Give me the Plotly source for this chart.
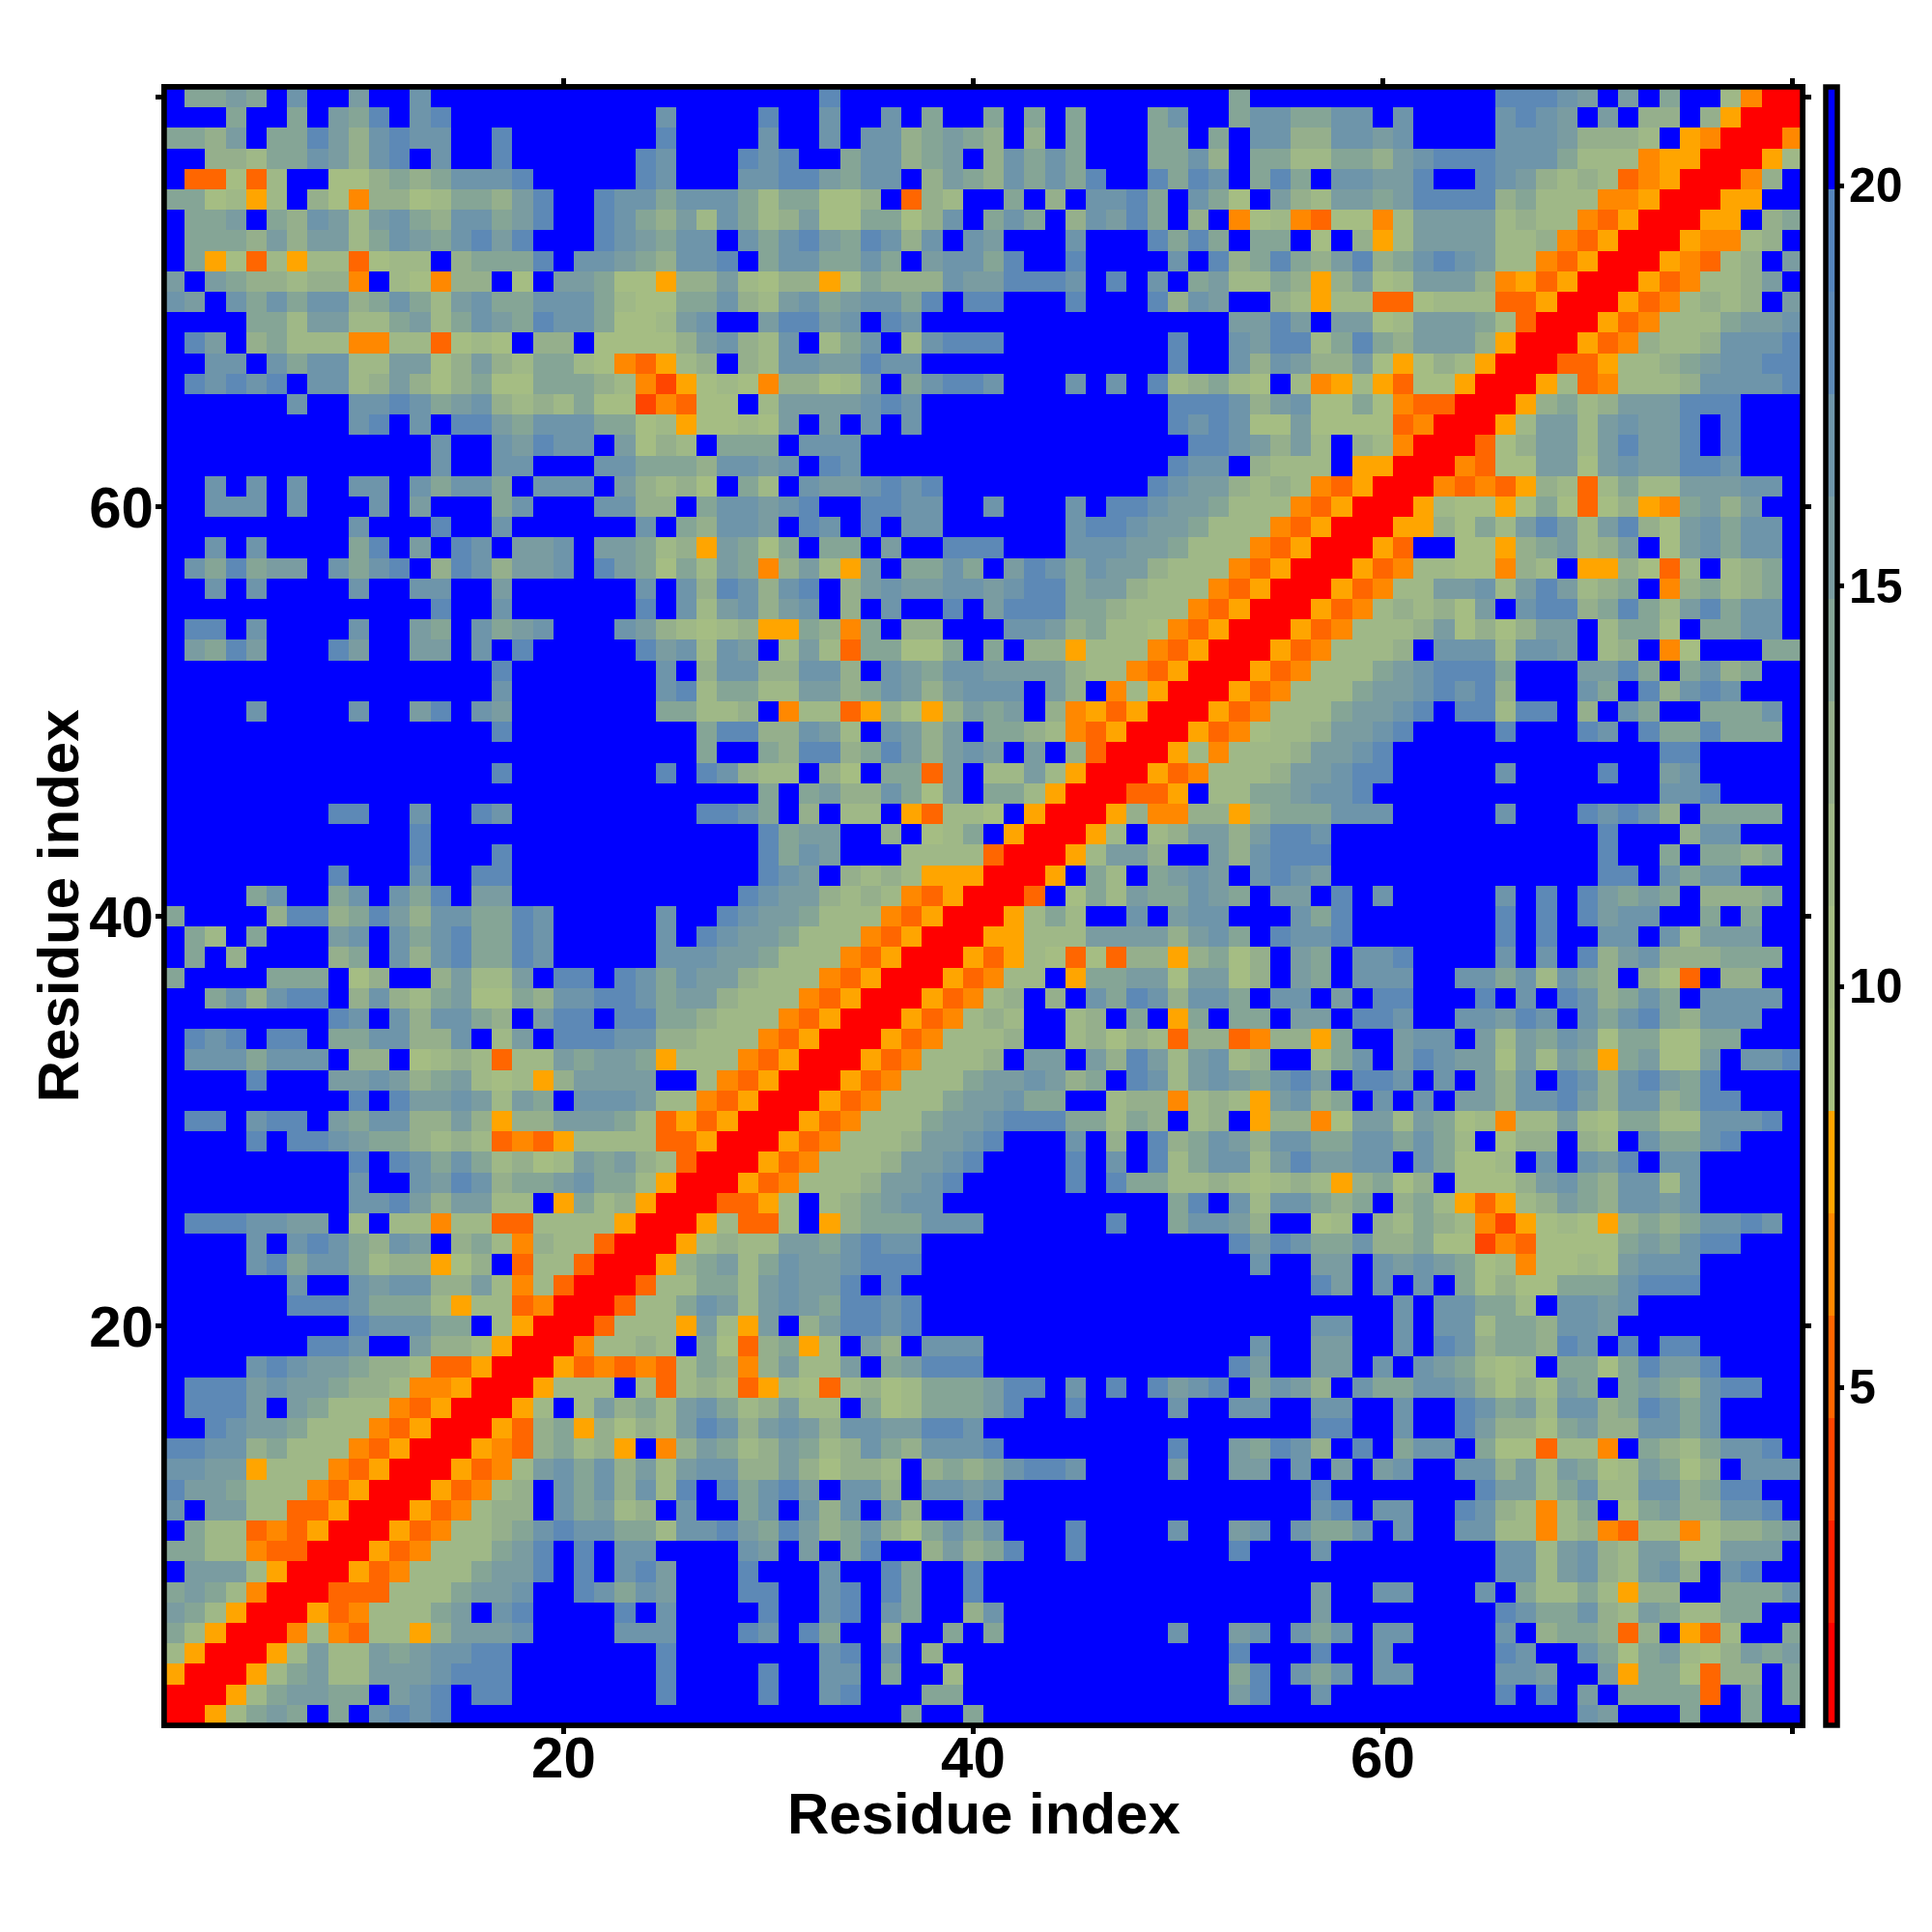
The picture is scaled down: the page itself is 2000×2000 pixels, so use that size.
import plotly.graph_objects as go

# Cell readings: each character names one colour band of the colour bar.
# Only the triangle x <= y is listed; the map is symmetric.
band_codes = "RSNOPQabcdefghi."
band_colors = ["#ff0000", "#ff2000", "#ff4500", "#ff6600", "#ff8800", "#ffa500",
               "#a8c180", "#a5bd83", "#9fb887", "#95af8c", "#85a596", "#7a9ca1",
               "#6e95aa", "#5d89b6", "#5585bd", "#0000ff"]
z_min = 0.78
z_max = 21.23
axis_ticks = [20, 40, 60, 80]
axis_labels = ["20", "40", "60", ""]
bar_ticks = [5, 10, 15, 20]
axis_title = "Residue index"

y80_61_x01_20 = [
".eefe.g..f..g.......", "...e..e.feh.gh......", "eedf.eehfdghgg..h...", "..ddceegfdgh.g..h...",
".OObOc..bbdedegggh..", "eebcQc.dbPddbceedfh.", ".eef.edgfcfgedggefh.", ".eeedfdffcegfeghfh..",
".eQbOcQccObcc.deeeh.", "f.feddcddP.cbPdd.b.f", "gf.gegeggdegecfgeegg", "....eecffccefcegfehg",
".hf.decccPPccObcb.dd", "..gg.geggccffbdfdcee", ".hghgh.ggcdfdbdebbee", "......g..gghgefgdcdc",
".........gh.g.hhfegg", ".............g..gfhg", ".............g..gg..", "..g.g.g..gg.gegge.gg",
]
y80_61_x21_40 = [
"............h.......", "....g....h..g..g.e..", "....h....g..g.ggdefe", "...hg...hgh..eggdef.",
"...hg...gghhfegg.dfe", ".hggegggeceebbd.Odc.", ".hgedfcgecdfbbeebdg.", ".hgfegg.geghfehgdg.g",
"ggfedggh.eggeege.fgg", "febbQddfcbddQbedddgf", "gecbbeegdcfgefggeh.h", "gebbcfg..fhhfg.hg...",
".bbbbdfgdcg.ceg.cghh", "cbPOQcd.dcggffhgg...", "edcPNQbcbPddbcf.eghh", "ebbNPObb.cffffghg...",
"geebcQbbcbf.f.g.g...", "g.fbdc.eee.ggg......", ".ggeeedggfg.hg......", "g.fdcdb.ec.gffghgh..",
]
y80_61_x41_60 = [
"............e.......", "e.e.e...eg..eggeegg.", "d.d.e...ee.e.ggddggf", "dgege...eegd.eecceed",
"dgegeh..hehg.ehe.ggf", ".e.d.gghe.geb.fdcffe", "ege.dgfhe.d.PbcPObbP", "f...g...hehe.ee.b.dQ",
"eh..h....g.hdehedfhd", "fhhhg.h.g.efccedQdfb", "h...h...hdgf..dcQccO", "............ffhf.ffb",
"h........h..gfhhcehe", ".........h..gdgfddfb", "g...g.g.hcdecb.cPQcQ", ".........hhhgdfgbbeb",
".........hghgbbfbbbb", "..........hhgfdfc.dc", ".........hgg.dccc.QQ", "........hgffdcdcPOQR",
]
y80_61_x61_80 = [
".....hhhgf.f.e..cPRR", "g....ghgf.f.dd.dQRRR", "g....gggfdddc.QPRRRP", "fghhhgggecccPQQRRRQc",
"fh..hgfdcdcOPQRRRPd.", "fhhhhdecccPPQRRRQQ..", "cffffcdccPOQRRRQQ.df", "cffffccdPOQRRRQPPcd.",
"eghgfccPOQRRRQPOdd.f", "cfffdPQOQRRRQOPccdf.", "ObcccOOQRRRQOPcdcd.f", "cfffecORRRQOPccceggg",
"dfffdQRRRQOPcccdfggh", "QbdcQRRROOQbbceffghh", "ObbQRRRQbOPccbdffggh", "POORRRQcdccfffghh...",
"OPRRRQcffcfgffg.h...", "PRRROcdffcfgffh.h...", "RRRPOccffcfgeehhh...", "RRPOPOQedOcfccfffgg.",
]
y60_41_x01_20 = [
"..ggg.g...g.f...eg..", ".........g...h..g...", "..g.g....eh.f.hg.ffg", ".geheff.gegh.dhgdffg",
"..g.g....g..gg..f...", ".............h..g...", ".hh.g....g..fe.gefg.", ".fehf...hf..ff.g.h..",
"................h...", "................g...", "....g....g..fh.gf...", "................h...",
"....................", "................h...", "....................", "........hh..g..hg...",
"............h.......", "............h...h...", "........h...g..hh...", "....eg..eg.geh.ff...",
]
y60_41_x21_40 = [
".ggdd.eggfgh..hhgg..", "...g.edggf.hg.h.gg..", ".ffecdQfebe.ee.f..hh", ".hfebecfePdfcQf.eege",
"...g.gdhgdgh.dfgffgg", "...h.gcfgdfg.d.g..h.", "..gfdcbcdQQedPe.dd..", "...hfgcgf.cfcOeebbe.",
"....g.dggddggd.gfegg", "....ghceeccffdegfdfg", "....eeccd.PccOQdbQdf", "......ehhddgfc.gfdf.",
"......e..edhhdehfdfg", "....h.hgdcc.db.eeOf.", ".........e.efddgebf.", "......hhge.d.cc.QOcc",
".........heff..d.bce", ".........hegf...cccc", ".........hgf.dcdcQQQ", "........hgffdcdcPOQR",
]
y60_41_x41_60 = [
"g...g.hhgffecccPOQRR", "....ghhgffecccPOQRRR", "h...gggffecccPOQRRRQ", ".fhgegffdcccPOQRRRQO",
"fghheffdcccPOQRRRQOP", "fhhheedcccPOQRRRQOPc", ".ggfdeccbPOQRRRQOPcc", "e.ddQcccPOQRRRQOPccc",
"ffffdccPOQRRRQOPccce", "gg.fd.PcQRRRQOPcccdf", "ef.dPQOQRRRQOPccceff", "eedcPOQRRRQOPbcceffg",
"f.f.dORRRQcPcccdffgh", "ccfcQRRRQOPccceffghh", "eecQRRROOQ.ccdefggh.", "b.QRRRQdPPdcQdfffggg",
".QRRRQc.cdffefhhg...", "ORRRQceec..fdghhh...", "RRRQ.ec.efgf.ghgf...", "RRO.bfdgffgge.gf.h.h",
]
y40_21_x01_20 = [
"e....dhhdehfdggeehg.", ".ec.e...fg.gegheehg.", ".e.d....de.gdgheehg.", "e....eee.bd..dfccf.h",
"..egdghh.dgdcefbbedg", "........hg.gdgged.fh", ".hgh.hh.eeggddg.cf.h", ".gggeggg.dd.bcdcOccf",
"....h...ffgfdefcbcQd", ".........h.hffgfcfe.", ".hh.ghh.feggddfdQddf", "....h.hhgfeedcdcOPOQ",
".........h.hgegecdbc", ".........g..gfhgdeef", ".........gghfdffcc.Q", ".hhhggff.c.ccPccOOcc",
"....g.ghgedgf.decPdc", "....gheggecddQbd.Occ", "......g..gfggddfcPcO", "......hhhgeeecQccOPR",
]
y40_21_x21_40 = [
"....g..hgffecccPOQRR", "....g.hgffecccPOQRRR", "....gggffecccPOQRRRQ", "h.hgegffdcccPOQRRRQO",
"ghhgeffdcccPOQRRRQOP", "h.hheedcccPOQRRRQOPc", "hhggddcccPOQRRRQOPcc", "effeQcccPOQRRRQOPccc",
"ffff..cPOQRRRQOPccce", "gggfccPOQRRRQOPcccdf", "ffecOQOQRRRQOPccceff", "ccccOOQRRRQOPccceffg",
"fefdcORRRQOPcccdffgh", "geecQRRRQOPccceffgh.", "ecdQRRROOQc.cdefgg..", "ccQRRRQcOOc.Qdfffggh",
"cORRRQcebcfffghgg...", "ORRRQcffcegffghhh...", "RRRObcfecfgffh.h....", "RROcdegfcfgeehhgg...",
]
y20_01_x01_20 = [
".........hgggee.cQRR", ".......hhg..fddcQRRR", "....ghgffeddcOOQRRRQ", ".hhhfgffeddcPPQRRRQc",
".hhhf.fecccPOQRRRQc.", "..hgffecccPOQRRRQOcd", "hhggdecccPOQRRRQPOcd", "ggffQcccPOQRRRQOPcfg",
"hffecccPOQRRRQOPcd.f", "g.ffccOOQRRRQOPcdc.f", ".eccOPOQRRRQOPcccehh", "eeccPOORRRQOPcccefh.",
".fffcQRRRQOPccceffh.", "efecPRRROOOcccefff..", "fecQRRRQOPcccef.gh..", "ecQRRRPcPOccQdfffg..",
"cQRRRQcdccfeffghh...", "QRRRQcdeccfffghhh...", "RRRQcdfeee.fgg.hh...", "RRQcefe.e.ghgh......",
]

top_rows = [a + b + c + d for a, b, c, d in zip(y80_61_x01_20, y80_61_x21_40, y80_61_x41_60, y80_61_x61_80)]
mid_rows = [a + b + c for a, b, c in zip(y60_41_x01_20, y60_41_x21_40, y60_41_x41_60)]
low_rows = [a + b for a, b in zip(y40_21_x01_20, y40_21_x21_40)]
rows = top_rows + mid_rows + low_rows + y20_01_x01_20      # y = 80 ... 1

n = 80
step = (z_max - z_min) / len(band_colors)
value_of = {c: z_min + step * (i + 0.5) for i, c in enumerate(band_codes)}
z = [[None] * n for _ in range(n)]
for k, row in enumerate(rows):
    y = n - k
    for x in range(1, y + 1):
        v = value_of[row[x - 1]]
        z[y - 1][x - 1] = v
        z[x - 1][y - 1] = v

colorscale = []
for i, c in enumerate(band_colors):
    colorscale.append([i / len(band_colors), c])
    colorscale.append([(i + 1) / len(band_colors), c])

fig = go.Figure(go.Heatmap(
    x=list(range(1, n + 1)), y=list(range(1, n + 1)), z=z,
    zmin=z_min, zmax=z_max, colorscale=colorscale,
    colorbar=dict(
        x=1.0140, xanchor="left", xpad=0, ypad=0, y=0.5, yanchor="middle",
        len=1, lenmode="fraction", thickness=12, thicknessmode="pixels",
        outlinewidth=5.5, outlinecolor="black", tickvals=bar_ticks, ticktext=[""] * len(bar_ticks),
        ticks="outside", ticklen=5, tickwidth=5, tickcolor="black",
    ),
))
axis_font = dict(family="Liberation Sans", size=60, weight="bold", color="black")
bar_font = dict(family="Liberation Sans", size=50, weight="bold", color="black")
common = dict(
    range=[0.5, 80.5], tickmode="array", tickvals=axis_ticks, ticktext=axis_labels,
    ticks="outside", ticklen=6, tickwidth=5, tickcolor="black", tickfont=axis_font,
    showline=True, linewidth=3, linecolor="black", mirror="ticks",
    showgrid=False, zeroline=False,
)
fig.update_xaxes(ticklabelstandoff=-27, **common)
fig.update_yaxes(ticklabelstandoff=-10, **common)
fig.add_shape(type="rect", xref="paper", yref="paper", x0=0, x1=1, y0=0, y1=1,
              line=dict(color="black", width=5.5), layer="above")
fig.add_annotation(text=axis_title, xref="paper", yref="paper", x=0.5, y=-0.0542,
                   xanchor="center", yanchor="middle", showarrow=False, font=axis_font)
fig.add_annotation(text=axis_title, xref="paper", yref="paper", x=-0.0647, y=0.5, textangle=-90,
                   xanchor="center", yanchor="middle", showarrow=False, font=axis_font)
for v in bar_ticks:
    fig.add_annotation(text=str(v), xref="paper", yref="paper", x=1.0271,
                       y=(v - z_min) / (z_max - z_min), xanchor="left", yanchor="middle",
                       showarrow=False, font=bar_font)
fig.update_layout(
    width=2000, height=2000, autosize=False, paper_bgcolor="white", plot_bgcolor="white",
    margin=dict(l=161.8, r=142, t=81.8, b=222, autoexpand=False),
)
fig.write_html("out.html")
